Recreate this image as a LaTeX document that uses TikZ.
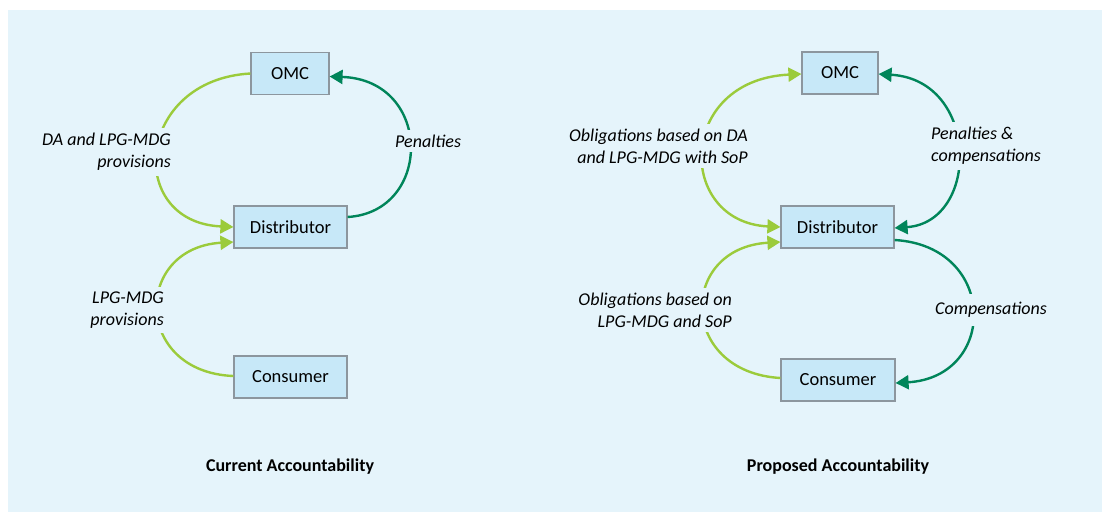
\documentclass[tikz,border=0pt]{standalone}
\usepackage{fontspec}
\setmainfont{Carlito}
\usetikzlibrary{arrows.meta}
\definecolor{panelbg}{RGB}{229,244,251}
\definecolor{boxfill}{RGB}{199,232,248}
\definecolor{boxline}{RGB}{140,150,158}
\definecolor{lgreen}{RGB}{155,203,59}
\definecolor{dgreen}{RGB}{0,133,90}
\tikzset{
  party/.style={draw=boxline, line width=1.2pt, fill=boxfill, minimum height=42pt,
    inner sep=0pt, font=\fontsize{18.5}{22}\selectfont},
  flowlabel/.style={fill=panelbg, inner sep=5pt, font=\fontsize{18}{22}\selectfont\itshape},
  heading/.style={font=\fontsize{18}{22}\selectfont\bfseries},
  flowtip/.tip={Triangle[length=13pt,width=14pt]},
  lflow/.style={draw=lgreen, line width=2.4pt},
  dflow/.style={draw=dgreen, line width=2.4pt},
}
\begin{document}
\begin{tikzpicture}[x=1pt,y=-1pt]
\useasboundingbox (0,0) rectangle (1102,512);
\fill[panelbg] (8,10) rectangle (1102,512);

% ---- current accountability ----
\node[party, minimum width=78pt] (omcL) at (290,73.5) {OMC};
\node[party, minimum width=113pt] (distL) at (290.5,227) {Distributor};
\node[party, minimum width=113pt] (conL) at (290.5,377) {Consumer};

\draw[lflow, -{flowtip}] (omcL.west) .. controls (135,80) and (125,222) .. (distL.west);
\draw[lflow, -{flowtip}] ([yshift=1pt]conL.west) .. controls (133,372) and (133,248) .. ([yshift=-15pt]distL.west);
\draw[dflow, -{flowtip}] ([yshift=10pt]distL.east) .. controls (433,212) and (433,80) .. ([yshift=-3pt]omcL.east);

\node[flowlabel, align=right, anchor=east] (daL) at (176,152) {DA and LPG-MDG\\provisions};
\node[flowlabel, anchor=west] (penL) at (390,141) {Penalties};
\node[flowlabel, align=right, anchor=east] (lpgL) at (169,310) {LPG-MDG\\provisions};
\node[heading] (titleL) at (290,467) {Current Accountability};

% ---- proposed accountability ----
\node[party, minimum width=76pt] (omcR) at (840,73) {OMC};
\node[party, minimum width=113pt] (distR) at (837.5,227) {Distributor};
\node[party, minimum width=114pt] (conR) at (838,380) {Consumer};

\draw[lflow, {flowtip}-{flowtip}] ([yshift=-1pt]omcR.west) .. controls (676,80) and (676,222) .. (distR.west);
\draw[lflow, -{flowtip}] ([yshift=2pt]conR.west) .. controls (678,372) and (678,248) .. ([yshift=-15pt]distR.west);
\draw[dflow, {flowtip}-{flowtip}] ([yshift=-1pt]omcR.east) .. controls (980,80) and (980,222) .. ([yshift=-1pt]distR.east);
\draw[dflow, -{flowtip}] ([yshift=-13pt]distR.east) .. controls (998,246) and (998,377) .. ([yshift=-3pt]conR.east);

\node[flowlabel, align=right, anchor=east] (oblR) at (753,146) {Obligations based on DA\\and LPG-MDG with SoP};
\node[flowlabel, align=left, anchor=west] (penR) at (926,146) {Penalties \&\\compensations};
\node[flowlabel, align=right, anchor=east] (lpgR) at (737,310) {Obligations based on\\LPG-MDG and SoP};
\node[flowlabel, inner ysep=8pt, anchor=west] (compR) at (930,310) {Compensations};
\node[heading] (titleR) at (838,467) {Proposed Accountability};
\end{tikzpicture}
\end{document}
